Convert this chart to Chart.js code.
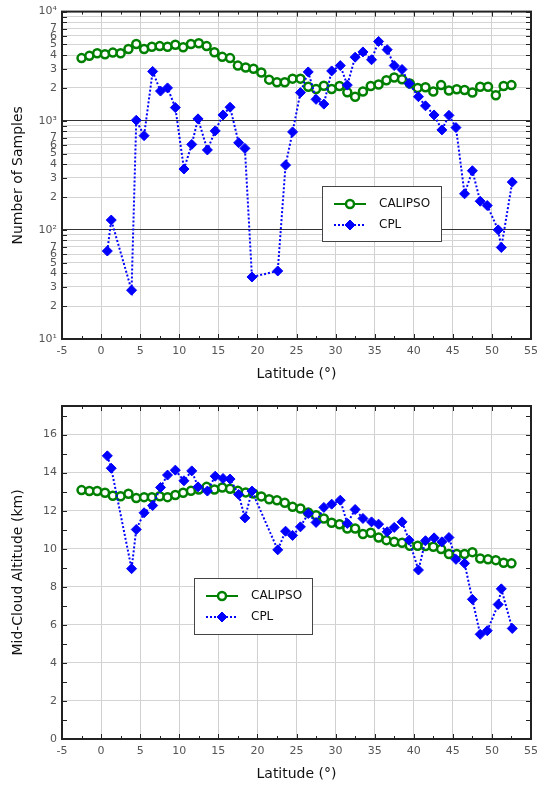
<!DOCTYPE html>
<html>
<head>
<meta charset="utf-8">
<script src="https://cdn.jsdelivr.net/npm/chart.js@4.4.0/dist/chart.umd.min.js"></script>
<style>
  body { margin: 0; background: #fff; }
  #samples { position: absolute; left: 0; top: 0; }
  #altitude { position: absolute; left: 0; top: 392px; }
</style>
</head>
<body>
<canvas id="samples" width="544" height="392"></canvas>
<canvas id="altitude" width="544" height="395"></canvas>
<script>
// latitude bins
var calipsoLat = [-2.5, -1.5, -0.5, 0.5, 1.5, 2.5, 3.5, 4.5, 5.5, 6.5, 7.5, 8.5, 9.5, 10.5,
    11.5, 12.5, 13.5, 14.5, 15.5, 16.5, 17.5, 18.5, 19.5, 20.5, 21.5, 22.5, 23.5, 24.5,
    25.5, 26.5, 27.5, 28.5, 29.5, 30.5, 31.5, 32.5, 33.5, 34.5, 35.5, 36.5, 37.5, 38.5,
    39.5, 40.5, 41.5, 42.5, 43.5, 44.5, 45.5, 46.5, 47.5, 48.5, 49.5, 50.5, 51.5, 52.5];
var cplLat = [0.8, 1.3, 3.9, 4.5, 5.5, 6.6, 7.6, 8.5, 9.5, 10.6, 11.6, 12.4, 13.6, 14.6,
    15.6, 16.5, 17.6, 18.4, 19.3, 22.6, 23.6, 24.5, 25.5, 26.5, 27.5, 28.5, 29.5, 30.6,
    31.5, 32.5, 33.5, 34.6, 35.5, 36.6, 37.5, 38.5, 39.4, 40.6, 41.5, 42.6, 43.6, 44.5,
    45.4, 46.5, 47.5, 48.5, 49.4, 50.8, 51.2, 52.6];

// number of samples
var calipsoSamples = [3750, 3930, 4150, 4060, 4210, 4150, 4540, 5050, 4540, 4770, 4830, 4770,
    4970, 4710, 5050, 5120, 4830, 4240, 3850, 3750, 3200, 3080, 2990, 2770, 2380, 2250, 2250,
    2430, 2430, 2050, 1950, 2090, 1950, 2080, 1820, 1660, 1850, 2080, 2150, 2350, 2490, 2400,
    2190, 2000, 2030, 1850, 2120, 1890, 1940, 1910, 1810, 2050, 2050, 1710, 2080, 2120];
var cplSamples = [64, 123, 28, 1010, 730, 2830, 1870, 2000, 1320, 361, 607, 1040, 540, 807,
    1130, 1330, 628, 558, 37, 42, 392, 790, 1810, 2800, 1570, 1420, 2860, 3200, 2120, 3820,
    4270, 3620, 5330, 4480, 3200, 2950, 2190, 1660, 1370, 1130, 824, 1120, 865, 214, 348,
    183, 167, 100, 69, 274];

// mid-cloud altitude (km)
var calipsoAlt = [13.08, 13.03, 13.03, 12.94, 12.78, 12.76, 12.89, 12.66, 12.71, 12.71, 12.76,
    12.71, 12.82, 12.94, 13.04, 13.11, 13.25, 13.11, 13.22, 13.15, 13.04, 12.96, 12.9, 12.75,
    12.6, 12.55, 12.41, 12.2, 12.11, 11.9, 11.76, 11.59, 11.36, 11.29, 11.06, 11.06, 10.77,
    10.84, 10.59, 10.45, 10.36, 10.31, 10.15, 10.15, 10.14, 10.1, 9.98, 9.72, 9.72, 9.72,
    9.82, 9.49, 9.44, 9.4, 9.26, 9.23];
var cplAlt = [14.88, 14.23, 8.95, 11.01, 11.89, 12.27, 13.22, 13.87, 14.13, 13.57, 14.09, 13.25,
    13.03, 13.81, 13.69, 13.66, 12.85, 11.62, 13.03, 9.94, 10.92, 10.7, 11.15, 11.85, 11.38,
    12.17, 12.34, 12.55, 11.33, 12.06, 11.59, 11.41, 11.29, 10.89, 11.12, 11.41, 10.45, 8.88,
    10.42, 10.57, 10.36, 10.59, 9.44, 9.23, 7.34, 5.5, 5.69, 7.07, 7.89, 5.81];

// ticks
var latTicks = [-5, 0, 5, 10, 15, 20, 25, 30, 35, 40, 45, 50, 55];
var latMinor = [-2.5, 2.5, 7.5, 12.5, 17.5, 22.5, 27.5, 32.5, 37.5, 42.5, 47.5, 52.5];
var sampleTicks = [10, 20, 30, 40, 50, 60, 70, 80, 90, 100, 200, 300, 400, 500, 600, 700, 800, 900,
    1000, 2000, 3000, 4000, 5000, 6000, 7000, 8000, 9000, 10000];
var decadeLabels = { 10: "10\u00b9", 100: "10\u00b2", 1000: "10\u00b3", 10000: "10\u2074" };
var altTicks = [0, 2, 4, 6, 8, 10, 12, 14, 16];
var altMinor = [1, 3, 5, 7, 9, 11, 13, 15, 17];

var green = "#008000";
var blue = "#0000ff";
var tickFont = { family: "DejaVu Sans", size: 11 };
var titleFont = { family: "DejaVu Sans", size: 14 };

function pts(xs, ys) {
    return xs.map(function (x, i) { return { x: x, y: ys[i] }; });
}

function datasets(calY, cplY) {
    return [{
        label: "CALIPSO",
        data: pts(calipsoLat, calY),
        borderColor: green,
        backgroundColor: "#fff",
        borderWidth: 2,
        pointStyle: "circle",
        pointRadius: 4,
        pointBorderWidth: 2.5,
        order: 1
    }, {
        label: "CPL",
        data: pts(cplLat, cplY),
        borderColor: blue,
        backgroundColor: blue,
        borderWidth: 2,
        borderDash: [2, 2],
        pointStyle: "rectRot",
        pointRadius: 5,
        pointBorderWidth: 1,
        order: 0
    }];
}

// frame, inside ticks and legend box
var frame = {
    id: "frame",
    afterDatasetsDraw: function (chart, args, o) {
        var ctx = chart.ctx, a = chart.chartArea;
        var xs = chart.scales.x, ys = chart.scales.y;
        ctx.save();
        ctx.strokeStyle = "#222";
        ctx.lineWidth = 1;
        ctx.beginPath();
        latTicks.concat(latMinor).forEach(function (v) {
            var p = Math.round(xs.getPixelForValue(v)) + 0.5;
            var len = latMinor.indexOf(v) >= 0 ? 3 : 5;
            ctx.moveTo(p, a.bottom); ctx.lineTo(p, a.bottom - len);
            ctx.moveTo(p, a.top); ctx.lineTo(p, a.top + len);
        });
        o.yTicks.forEach(function (v) {
            var p = Math.round(ys.getPixelForValue(v)) + 0.5;
            ctx.moveTo(a.left, p); ctx.lineTo(a.left + 5, p);
            ctx.moveTo(a.right, p); ctx.lineTo(a.right - 5, p);
        });
        ctx.stroke();
        ctx.lineWidth = 2;
        ctx.strokeRect(a.left, a.top, a.right - a.left, a.bottom - a.top);

        // legend
        var L = o.legend;
        ctx.fillStyle = "#fff";
        ctx.fillRect(L.x, L.y, L.w, L.h);
        ctx.lineWidth = 1;
        ctx.strokeStyle = "#444";
        ctx.strokeRect(L.x + 0.5, L.y + 0.5, L.w, L.h);
        chart.data.datasets.forEach(function (ds, i) {
            var cy = L.y + 18 + i * 21;
            var x0 = L.x + 12;
            ctx.save();
            ctx.strokeStyle = ds.borderColor;
            ctx.lineWidth = 2;
            ctx.setLineDash(ds.borderDash || []);
            ctx.beginPath();
            ctx.moveTo(x0, cy); ctx.lineTo(x0 + 32, cy);
            ctx.stroke();
            ctx.setLineDash([]);
            ctx.fillStyle = ds.backgroundColor;
            ctx.lineWidth = ds.pointBorderWidth;
            Chart.helpers.drawPoint(ctx, { pointStyle: ds.pointStyle, radius: ds.pointRadius,
                borderWidth: ds.pointBorderWidth }, x0 + 16, cy);
            ctx.restore();
            ctx.fillStyle = "#111";
            ctx.font = "12px 'DejaVu Sans'";
            ctx.textBaseline = "middle";
            ctx.fillText(ds.label, x0 + 45, cy);
        });
        ctx.restore();
    }
};

function xAxis(h, pb) {
    return {
        type: "linear",
        min: -5, max: 55,
        afterBuildTicks: function (s) { s.ticks = latTicks.map(function (v) { return { value: v }; }); },
        afterFit: function (s) { s.height = h; },
        grid: { color: "#d0d0d0", drawTicks: false },
        border: { display: false },
        ticks: { font: tickFont, color: "#555", padding: 6, maxRotation: 0 },
        title: { display: true, text: "Latitude (\u00b0)", font: titleFont, color: "#111",
            padding: { top: 0, bottom: pb } }
    };
}

new Chart(document.getElementById("samples"), {
    type: "line",
    data: { datasets: datasets(calipsoSamples, cplSamples) },
    options: {
        responsive: false,
        animation: false,
        layout: { padding: { top: 7, right: 6, left: 0, bottom: 0 } },
        plugins: {
            legend: { display: false },
            tooltip: { enabled: false },
            frame: { yTicks: sampleTicks, legend: { x: 322, y: 186, w: 119, h: 55 } }
        },
        scales: {
            x: xAxis(53, 9),
            y: {
                type: "logarithmic",
                min: 10, max: 10000,
                afterBuildTicks: function (s) { s.ticks = sampleTicks.map(function (v) { return { value: v }; }); },
                afterFit: function (s) { s.width = 62; },
                grid: {
                    drawTicks: false,
                    color: function (c) { return decadeLabels[c.tick.value] ? "#333" : "#d4d4d4"; }
                },
                border: { display: false },
                ticks: {
                    autoSkip: false,
                    font: tickFont, color: "#555", padding: 5,
                    callback: function (v) {
                        if (decadeLabels[v]) return decadeLabels[v];
                        var m = Math.round(v / Math.pow(10, Math.floor(Math.log10(v) + 1e-9)));
                        return m <= 7 ? String(m) : "";
                    }
                },
                title: { display: true, text: "Number of Samples", font: titleFont, color: "#111",
                    padding: { top: 10, bottom: 0 } }
            }
        }
    },
    plugins: [frame]
});

new Chart(document.getElementById("altitude"), {
    type: "line",
    data: { datasets: datasets(calipsoAlt, cplAlt) },
    options: {
        responsive: false,
        animation: false,
        layout: { padding: { top: 14, right: 6, left: 0, bottom: 0 } },
        plugins: {
            legend: { display: false },
            tooltip: { enabled: false },
            frame: { yTicks: altTicks.concat(altMinor), legend: { x: 194, y: 186, w: 118, h: 56 } }
        },
        scales: {
            x: xAxis(48, 4),
            y: {
                type: "linear",
                min: 0, max: 17.5,
                afterBuildTicks: function (s) { s.ticks = altTicks.map(function (v) { return { value: v }; }); },
                afterFit: function (s) { s.width = 62; },
                grid: { drawTicks: false, color: "#d4d4d4" },
                border: { display: false },
                ticks: { font: tickFont, color: "#555", padding: 5 },
                title: { display: true, text: "Mid-Cloud Altitude (km)", font: titleFont, color: "#111",
                    padding: { top: 10, bottom: 0 } }
            }
        }
    },
    plugins: [frame]
});
</script>
</body>
</html>
